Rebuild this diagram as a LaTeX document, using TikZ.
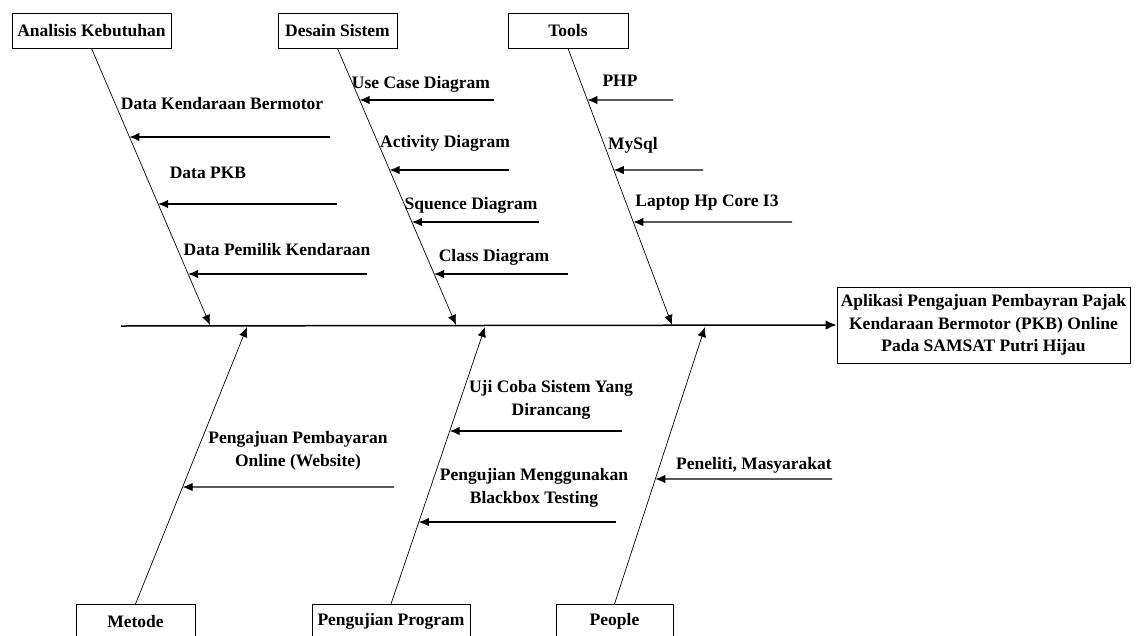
\documentclass[tikz,border=0pt]{standalone}
\usepackage{fontspec}
\setmainfont{Liberation Serif}
\usetikzlibrary{arrows.meta}
\newcommand\lblfont{\bfseries\fontsize{17.5}{22.5}\selectfont}
\begin{document}
\begin{tikzpicture}[x=1pt,y=-1pt,
  box/.style={draw, line width=0.8pt, font=\lblfont, inner sep=0pt, minimum height=35pt},
  lbl/.style={font=\lblfont, inner sep=0pt, anchor=base},
  mlbl/.style={font=\lblfont, inner sep=0pt, align=center},
  bone/.style={line width=0.7pt, -{Latex[length=10pt,width=8.5pt]}},
  branch/.style={line width=1.1pt, -{Latex[length=10pt,width=8.5pt]}},
  spine/.style={line width=1.5pt, -{Latex[length=11pt,width=9.5pt]}}]
\useasboundingbox (0,0) rectangle (1139,635);
% category boxes
\node[box, minimum width=159pt] (ana) at (91.5,30.5) {Analisis Kebutuhan};
\node[box, minimum width=119pt] (des) at (337.5,30.5) {Desain Sistem};
\node[box, minimum width=120pt] (too) at (568,30.5) {Tools};
\node[box, minimum width=119pt, minimum height=34pt, anchor=north] (met) at (135.5,604) {Metode};
\node[box, minimum width=158pt, minimum height=34pt, anchor=north] (pen) at (391,604) {Pengujian Program};
\node[box, minimum width=117pt, minimum height=34pt, anchor=north] (peo) at (614.5,604) {People};
% effect
\node[box, minimum width=293pt, minimum height=76pt, align=center] (eff) at (983.5,325)
  {Aplikasi Pengajuan Pembayran Pajak\\Kendaraan Bermotor (PKB) Online\\Pada SAMSAT Putri Hijau};
% spine
\coordinate (s0) at (121,326);
\draw[spine] (s0) -- (eff.west);
\coordinate (sa) at (210,325);
\coordinate (sd) at (456,325);
\coordinate (st) at (672,325);
\coordinate (sm) at (247,327);
\coordinate (sp) at (485,327);
\coordinate (so) at (705,327);
\draw[bone] (ana.south) -- (sa);
\draw[bone] (des.south) -- (sd);
\draw[bone] (too.south) -- (st);
\draw[bone] (met.north) -- (sm);
\draw[bone] (pen.north) -- (sp);
\draw[bone] (peo.north) -- (so);
% branch start points
\coordinate (a1) at (330,137);
\coordinate (a2) at (337,204);
\coordinate (a3) at (367,274);
\coordinate (d1) at (494,100);
\coordinate (d2) at (509,170);
\coordinate (d3) at (539,222);
\coordinate (d4) at (568,274);
\coordinate (t1) at (673,100);
\coordinate (t2) at (703,170);
\coordinate (t3) at (792,222);
\coordinate (m1) at (394,487);
\coordinate (p1) at (622,431);
\coordinate (p2) at (616,522);
\coordinate (o1) at (832,479);
% branch tips on bones
\coordinate (a1x) at (intersection of ana.south--sa and a1--0,137);
\coordinate (a2x) at (intersection of ana.south--sa and a2--0,204);
\coordinate (a3x) at (intersection of ana.south--sa and a3--0,274);
\coordinate (d1x) at (intersection of des.south--sd and d1--0,100);
\coordinate (d2x) at (intersection of des.south--sd and d2--0,170);
\coordinate (d3x) at (intersection of des.south--sd and d3--0,222);
\coordinate (d4x) at (intersection of des.south--sd and d4--0,274);
\coordinate (t1x) at (intersection of too.south--st and t1--0,100);
\coordinate (t2x) at (intersection of too.south--st and t2--0,170);
\coordinate (t3x) at (intersection of too.south--st and t3--0,222);
\coordinate (m1x) at (intersection of met.north--sm and m1--0,487);
\coordinate (p1x) at (intersection of pen.north--sp and p1--0,431);
\coordinate (p2x) at (intersection of pen.north--sp and p2--0,522);
\coordinate (o1x) at (intersection of peo.north--so and o1--0,479);
\foreach \b in {a1,a2,a3,d1,d2,d3,d4,t1,t2,t3,m1,p1,p2,o1}
  \draw[branch] (\b) -- (\b x);
% labels
\node[lbl] (la1) at (222,109) {Data Kendaraan Bermotor};
\node[lbl] (la2) at (208,178) {Data PKB};
\node[lbl] (la3) at (277,255) {Data Pemilik Kendaraan};
\node[lbl] (ld1) at (421,88) {Use Case Diagram};
\node[lbl] (ld2) at (445,147) {Activity Diagram};
\node[lbl] (ld3) at (471,209) {Squence Diagram};
\node[lbl] (ld4) at (494,261) {Class Diagram};
\node[lbl] (lt1) at (620,86) {PHP};
\node[lbl] (lt2) at (633,149) {MySql};
\node[lbl] (lt3) at (707,206) {Laptop Hp Core I3};
\node[mlbl] (lm1) at (298,451) {Pengajuan Pembayaran\\Online (Website)};
\node[mlbl] (lp1) at (551,400) {Uji Coba Sistem Yang\\Dirancang};
\node[mlbl] (lp2) at (534,488) {Pengujian Menggunakan\\Blackbox Testing};
\node[lbl] (lo1) at (754,469) {Peneliti, Masyarakat};
\end{tikzpicture}
\end{document}
